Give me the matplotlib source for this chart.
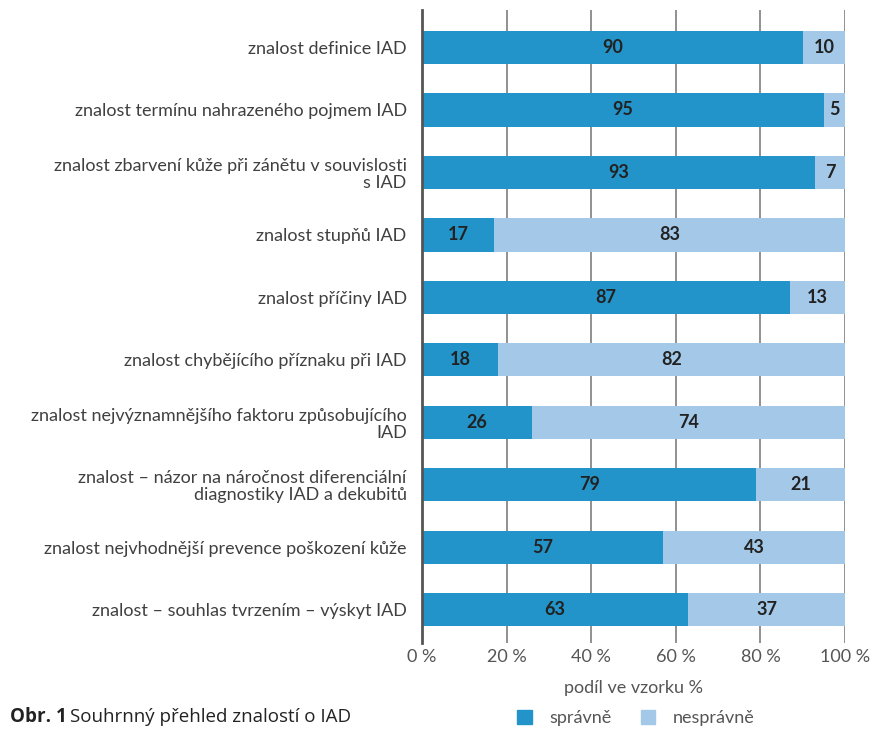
import matplotlib.pyplot as plt
from matplotlib.patches import Patch
import numpy as np

plt.rcParams['font.family'] = ['Lato', 'DejaVu Sans']

questions = [
    'znalost definice IAD',
    'znalost termínu nahrazeného pojmem IAD',
    'znalost zbarvení kůže při zánětu v souvislosti\ns IAD',
    'znalost stupňů IAD',
    'znalost příčiny IAD',
    'znalost chybějícího příznaku při IAD',
    'znalost nejvýznamnějšího faktoru způsobujícího\nIAD',
    'znalost – názor na náročnost diferenciální\ndiagnostiky IAD a dekubitů',
    'znalost nejvhodnější prevence poškození kůže',
    'znalost – souhlas tvrzením – výskyt IAD',
]
correct = [90, 95, 93, 17, 87, 18, 26, 79, 57, 63]
incorrect = [10, 5, 7, 83, 13, 82, 74, 21, 43, 37]
xticks = [0, 20, 40, 60, 80, 100]

c_ok = '#2394c9'
c_bad = '#a3c8e8'
txt = '#404040'

fig = plt.figure(figsize=(8.72, 7.29), dpi=100)
ax = fig.add_axes([422 / 872, 1 - 643 / 729, 423 / 872, 633 / 729])

y = np.arange(len(questions))
ax.barh(y, correct, height=0.53, color=c_ok, zorder=3)
ax.barh(y, incorrect, left=correct, height=0.53, color=c_bad, zorder=3)

for i in range(len(questions)):
    ax.text(correct[i] / 2, y[i], str(correct[i]), ha='center', va='center',
            fontsize=13, fontweight='bold', color='#222222', zorder=4)
    ax.text(correct[i] + incorrect[i] / 2, y[i], str(incorrect[i]), ha='center',
            va='center', fontsize=13, fontweight='bold', color='#222222', zorder=4)

ax.set_xlim(0, 100)
ax.set_ylim(9.53, -0.6)
ax.set_xticks(xticks)
ax.set_xticklabels([f'{v} %' for v in xticks], fontsize=13, color='#555555')
ax.tick_params(axis='x', length=0, pad=4)
ax.set_yticks(y)
ax.set_yticklabels(questions, fontsize=13, color=txt, linespacing=1.05)
ax.tick_params(axis='y', length=0, pad=11)
ax.xaxis.grid(True, color='#888888', linewidth=1.3, zorder=0)
for s in ['top', 'right', 'bottom']:
    ax.spines[s].set_visible(False)
ax.spines['left'].set_color('#555555')
ax.spines['left'].set_linewidth(2)
ax.spines['left'].set_zorder(5)

ax.set_xlabel('podíl ve vzorku %', fontsize=13, color='#555555', labelpad=11)

handles = [Patch(color=c_ok, label='správně'), Patch(color=c_bad, label='nesprávně')]
fig.legend(handles=handles, loc='center', bbox_to_anchor=(636 / 872, 1 - 718 / 729),
           ncol=2, frameon=False, fontsize=13, handlelength=0.8, handleheight=0.8,
           columnspacing=1.6, handletextpad=1.0, labelcolor='#555555')

fig.text(10 / 872, 1 - 717 / 729, 'Obr. 1', fontsize=13.5, fontweight='bold',
         color='#222222', va='center', family=['Open Sans', 'DejaVu Sans'])
fig.text(70 / 872, 1 - 717 / 729, 'Souhrnný přehled znalostí o IAD', fontsize=13.5,
         color='#222222', va='center', family=['Open Sans', 'DejaVu Sans'])

fig.savefig('out.png', dpi=100)
